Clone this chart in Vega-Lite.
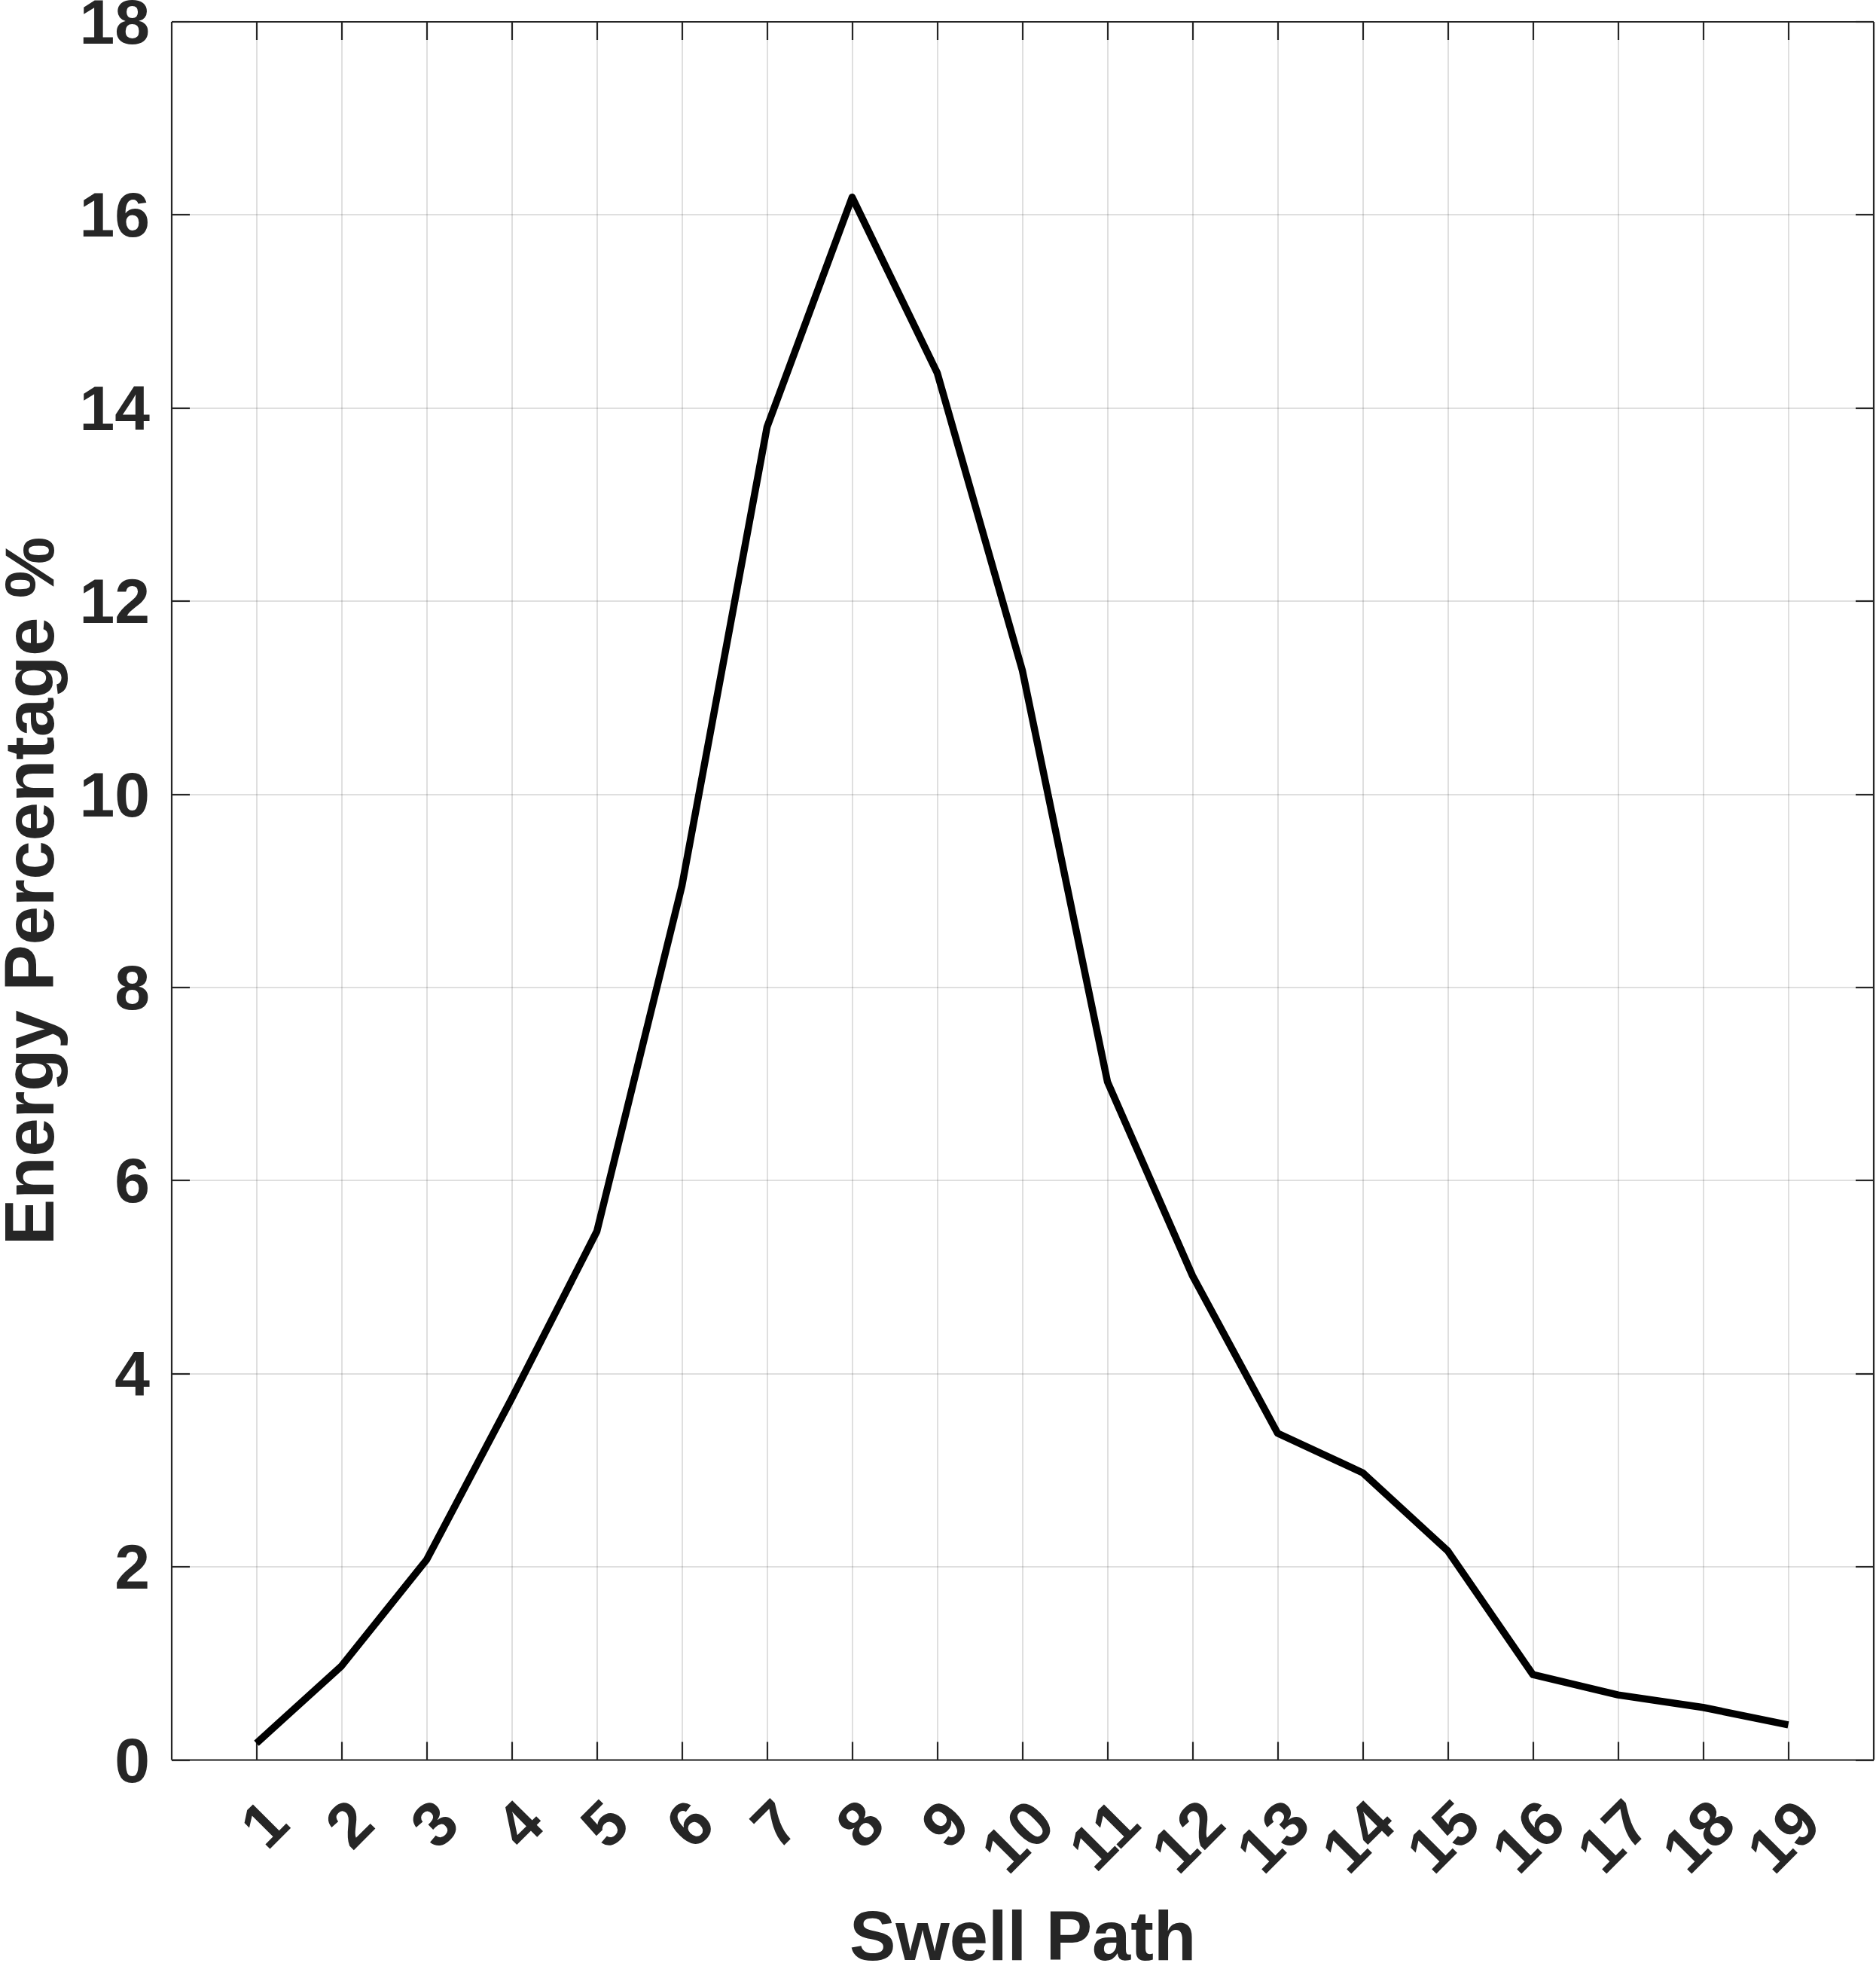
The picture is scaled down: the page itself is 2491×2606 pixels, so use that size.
{
  "$schema": "https://vega.github.io/schema/vega-lite/v6.json",
  "width": 2260,
  "height": 2307.5,
  "autosize": "none",
  "padding": {"left": 227.5, "top": 28.5, "right": 3.5, "bottom": 270},
  "background": "white",
  "config": {"view": {"stroke": null}},
  "data": {
    "values": [
      {"path": 1, "energy": 0.17},
      {"path": 2, "energy": 0.97},
      {"path": 3, "energy": 2.07},
      {"path": 4, "energy": 3.74},
      {"path": 5, "energy": 5.47},
      {"path": 6, "energy": 9.05},
      {"path": 7, "energy": 13.8},
      {"path": 8, "energy": 16.18},
      {"path": 9, "energy": 14.36},
      {"path": 10, "energy": 11.28},
      {"path": 11, "energy": 7.02},
      {"path": 12, "energy": 5.01},
      {"path": 13, "energy": 3.38},
      {"path": 14, "energy": 2.97},
      {"path": 15, "energy": 2.16},
      {"path": 16, "energy": 0.88},
      {"path": 17, "energy": 0.67},
      {"path": 18, "energy": 0.54},
      {"path": 19, "energy": 0.36}
    ]
  },
  "layer": [
    {
      "mark": {"type": "line", "color": "black", "strokeWidth": 9.5, "strokeCap": "butt", "strokeJoin": "round"},
      "encoding": {
        "x": {
          "field": "path", "type": "quantitative",
          "scale": {"domain": [0, 20], "nice": false, "zero": false},
          "axis": {
            "orient": "bottom",
            "values": [1,2,3,4,5,6,7,8,9,10,11,12,13,14,15,16,17,18,19],
            "format": "d",
            "title": "Swell Path",
            "grid": true, "gridColor": "#262626", "gridOpacity": 0.15, "gridWidth": 2,
            "domainColor": "#262626", "domainWidth": 2.2,
            "ticks": true, "tickColor": "#262626", "tickWidth": 2.2, "tickSize": -24,
            "labelAngle": -45, "labelAlign": "right", "labelBaseline": "middle",
            "labelOffset": 29, "labelPadding": 95,
            "labelFont": "Liberation Sans", "labelFontWeight": "bold", "labelFontSize": 84,
            "labelColor": "#262626", "labelOverlap": false, "labelFlush": false, "labelBound": false,
            "titleFont": "Liberation Sans", "titleFontWeight": "bold", "titleFontSize": 92,
            "titleColor": "#262626", "titleX": 1130, "titleY": 265,
            "titleBaseline": "alphabetic", "titleAlign": "center", "titleAngle": 0
          }
        },
        "y": {
          "field": "energy", "type": "quantitative",
          "scale": {"domain": [0, 18], "nice": false},
          "axis": {
            "orient": "left",
            "values": [0,2,4,6,8,10,12,14,16,18],
            "format": "d",
            "title": "Energy Percentage %",
            "grid": true, "gridColor": "#262626", "gridOpacity": 0.15, "gridWidth": 2,
            "domainColor": "#262626", "domainWidth": 2.2,
            "ticks": true, "tickColor": "#262626", "tickWidth": 2.2, "tickSize": -24,
            "labelAlign": "right", "labelBaseline": "middle", "labelPadding": 53, "labelOffset": 4,
            "labelFont": "Liberation Sans", "labelFontWeight": "bold", "labelFontSize": 84,
            "labelColor": "#262626", "labelOverlap": false, "labelFlush": false, "labelBound": false,
            "titleFont": "Liberation Sans", "titleFontWeight": "bold", "titleFontSize": 92,
            "titleColor": "#262626", "titleX": -157, "titleY": 1153.75,
            "titleBaseline": "alphabetic", "titleAlign": "center", "titleAngle": -90
          }
        }
      }
    },
    {
      "mark": {"type": "line", "opacity": 0},
      "encoding": {
        "x": {
          "field": "path", "type": "quantitative",
          "axis": {
            "orient": "top",
            "values": [1,2,3,4,5,6,7,8,9,10,11,12,13,14,15,16,17,18,19],
            "title": null, "labels": false, "grid": false,
            "domainColor": "#262626", "domainWidth": 2.2,
            "ticks": true, "tickColor": "#262626", "tickWidth": 2.2, "tickSize": -24
          }
        },
        "y": {
          "field": "energy", "type": "quantitative",
          "axis": {
            "orient": "right",
            "values": [0,2,4,6,8,10,12,14,16,18],
            "title": null, "labels": false, "grid": false,
            "domainColor": "#262626", "domainWidth": 2.2,
            "ticks": true, "tickColor": "#262626", "tickWidth": 2.2, "tickSize": -24
          }
        }
      }
    }
  ],
  "resolve": {"axis": {"x": "independent", "y": "independent"}}
}
